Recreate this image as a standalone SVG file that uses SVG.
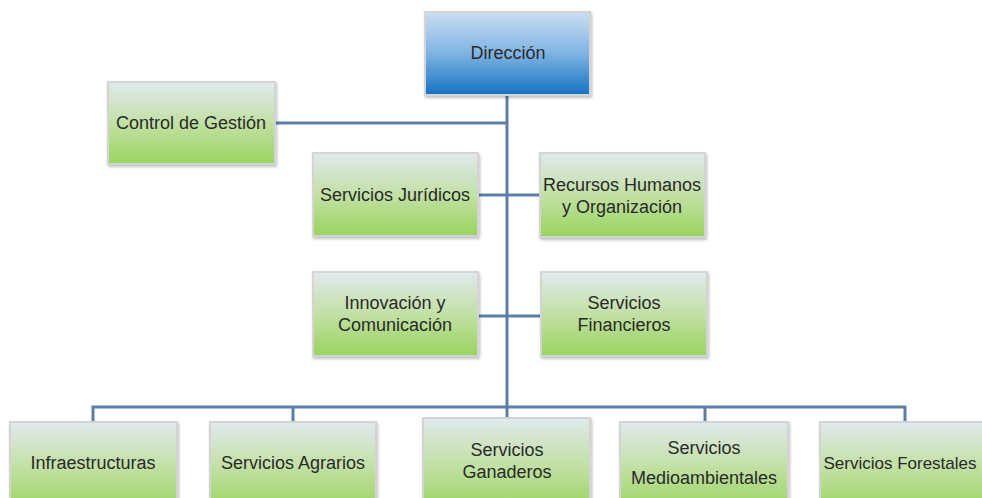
<svg xmlns="http://www.w3.org/2000/svg" width="982" height="498" viewBox="0 0 982 498">
<defs>
<linearGradient id="gGreen" x1="0" y1="0" x2="0" y2="1">
<stop offset="0" stop-color="#e1e9ee"/>
<stop offset="0.5" stop-color="#c2e0a4"/>
<stop offset="1" stop-color="#98d45e"/>
</linearGradient>
<linearGradient id="gBlue" x1="0" y1="0" x2="0" y2="1">
<stop offset="0" stop-color="#c9def2"/>
<stop offset="0.5" stop-color="#7fb3e2"/>
<stop offset="1" stop-color="#1472c4"/>
</linearGradient>
<filter id="sh" x="-10%" y="-10%" width="120%" height="125%">
<feDropShadow dx="1" dy="2" stdDeviation="1.5" flood-color="#000" flood-opacity="0.25"/>
</filter>
</defs>
<style>
.box{stroke:#d4d4d4;stroke-width:2;filter:url(#sh)}
.g{fill:url(#gGreen)}
.b{fill:url(#gBlue)}
text{font-family:"Liberation Sans",Arial,sans-serif;font-size:18px;fill:#2a2a2a;text-anchor:middle}
.c{fill:none;stroke:#5b7ea6;stroke-width:3}
</style>
<rect width="982" height="498" fill="#fff"/>
<g id="connectors">
<path class="c" d="M507 95 V407"/>
<path class="c" d="M275 123 H507"/>
<path class="c" d="M478 195 H540"/>
<path class="c" d="M478 316 H541"/>
<path class="c" d="M93 422 V407 H905 V422"/>
<path class="c" d="M293 407 V422"/>
<path class="c" d="M507 407 V418"/>
<path class="c" d="M705 407 V422"/>
</g>
<g id="direccion"><rect class="box b" x="425" y="12" width="165" height="83"/><text x="508" y="59">Dirección</text></g>
<g id="control"><rect class="box g" x="108" y="82" width="167" height="82"/><text x="191" y="129">Control de Gestión</text></g>
<g id="juridicos"><rect class="box g" x="313" y="153" width="165" height="83"/><text x="395" y="201">Servicios Jurídicos</text></g>
<g id="rrhh"><rect class="box g" x="540" y="153" width="165" height="84"/><text x="622" y="191">Recursos Humanos</text><text x="622" y="213">y Organización</text></g>
<g id="innovacion"><rect class="box g" x="313" y="272" width="165" height="84"/><text x="395" y="309">Innovación y</text><text x="395" y="331">Comunicación</text></g>
<g id="financieros"><rect class="box g" x="541" y="272" width="166" height="84"/><text x="624" y="309">Servicios</text><text x="624" y="331">Financieros</text></g>
<g id="infra"><rect class="box g" x="10" y="422" width="167" height="90"/><text x="93" y="469">Infraestructuras</text></g>
<g id="agrarios"><rect class="box g" x="210" y="422" width="166" height="90"/><text x="293" y="469">Servicios Agrarios</text></g>
<g id="ganaderos"><rect class="box g" x="423" y="418" width="167" height="94"/><text x="507" y="456">Servicios</text><text x="507" y="478">Ganaderos</text></g>
<g id="medio"><rect class="box g" x="620" y="422" width="168" height="90"/><text x="704" y="454">Servicios</text><text x="704" y="484">Medioambientales</text></g>
<g id="forestales"><rect class="box g" x="820" y="422" width="170" height="90"/><text x="900" y="469" style="font-size:17px">Servicios Forestales</text></g>
</svg>
